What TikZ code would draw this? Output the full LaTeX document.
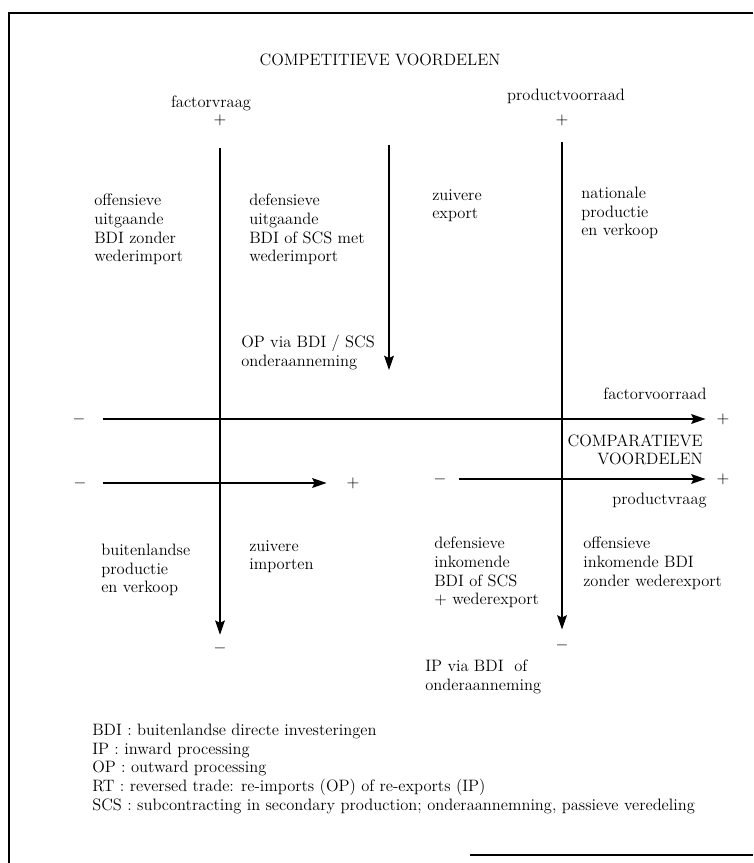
\documentclass[tikz,border=0pt]{standalone}
\usepackage{tikz}
\usetikzlibrary{arrows.meta}

\begin{document}
\begin{tikzpicture}[x=0.6667pt, y=-0.6667pt,
                    every node/.style={font=\fontsize{11}{12.4}\selectfont},
                    txt/.style={anchor=north west, align=left, inner sep=0pt},
                    sign/.style={inner sep=1pt},
                    arr/.style={line width=0.9pt, -{Stealth[length=9.5pt, width=6.5pt, inset=1.5pt]}}]
  \useasboundingbox (0,0) rectangle (753,863);
  % frame
  \draw[line width=1pt] (753,13) -- (9,13) -- (9,863);
  \draw[line width=1pt] (470,855) -- (753,855);

  \node (title) at (380,60) {COMPETITIEVE VOORDELEN};
  \node (fvraag) at (211,103) {factorvraag};
  \node (pvoorraad) at (566,96) {productvoorraad};

  % signs at the ends of the axes
  \node[sign] (fvplus) at (220,120) {$+$};
  \node[sign] (fvmin) at (220,648) {$-$};
  \node[sign] (pvplus) at (562,120) {$+$};
  \node[sign] (pvmin) at (562,645) {$-$};
  \node[sign] (fomin) at (79,419) {$-$};
  \node[sign] (foplus) at (723,419) {$+$};
  \node[sign] (bimin) at (80,483) {$-$};
  \node[sign] (biplus) at (353,483) {$+$};
  \node[sign] (pvrmin) at (440,479) {$-$};
  \node[sign] (pvrplus) at (723,479) {$+$};
  \coordinate (opstart) at (389,145);
  \coordinate (optip) at (389,370);

  \draw[arr, shorten <=13.5pt, shorten >=4pt] (fvplus) -- (fvmin);
  \draw[arr, shorten <=10pt, shorten >=5.5pt] (pvplus) -- (pvmin);
  \draw[arr] (opstart) -- (optip);
  \draw[arr, shorten <=10.8pt, shorten >=6.2pt] (fomin) -- (foplus);
  \draw[arr, shorten <=10.2pt, shorten >=12.2pt] (bimin) -- (biplus);
  \draw[arr, shorten <=7.5pt, shorten >=6.2pt] (pvrmin) -- (pvrplus);

  \node[anchor=east, inner sep=0pt] (fvoorraad) at (707,394) {factorvoorraad};
  \node[anchor=north east, align=right, inner sep=0pt] (comp) at (703,434)
    {COMPARATIEVE\\VOORDELEN};
  \node[anchor=east, inner sep=0pt] (pvraag) at (707,500) {productvraag};

  % upper quadrants
  \node[txt] (offuit) at (94,194) {offensieve\\uitgaande\\BDI zonder\\wederimport};
  \node[txt] (defuit) at (249,194) {defensieve\\uitgaande\\BDI of SCS met\\wederimport};
  \node[txt] (zexp) at (432,189) {zuivere\\export};
  \node[txt] (nat) at (581,187) {nationale\\productie\\en verkoop};
  \node[txt] (op) at (241,335) {OP via BDI / SCS\\onderaanneming};

  % lower quadrants
  \node[txt] (buit) at (101,544) {buitenlandse\\productie\\en verkoop};
  \node[txt] (zimp) at (249,540) {zuivere\\importen};
  \node[txt] (defin) at (434,537) {defensieve\\inkomende\\BDI of SCS\\+ wederexport};
  \node[txt] (offin) at (583,537) {offensieve\\inkomende BDI\\zonder wederexport};
  \node[txt] (ip) at (425,660) {IP via BDI~ of\\onderaanneming};

  % legend
  \node[txt] (legend) at (92,724) {BDI : buitenlandse directe investeringen\\
    IP : inward processing\\
    OP : outward processing\\
    RT : reversed trade: re-imports (OP) of re-exports (IP)\\
    SCS : subcontracting in secondary production; onderaannemning, passieve veredeling};
\end{tikzpicture}
\end{document}
